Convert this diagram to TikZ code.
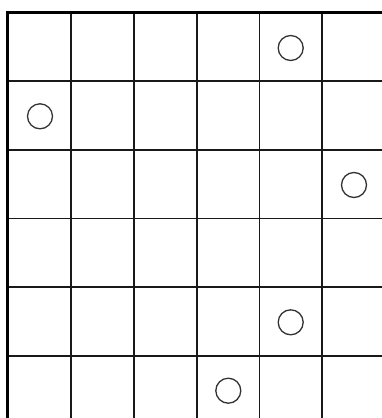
\documentclass[tikz,border=0pt]{standalone}
\begin{document}
\begin{tikzpicture}[x=1pt,y=-1pt,
  gridline/.style={line width=1.6pt, draw=black!90},
  leftborder/.style={line width=3.2pt, draw=black},
  topborder/.style={line width=2.8pt, draw=black},
  stone/.style={circle, draw=black!80, line width=1.3pt, minimum size=25pt, inner sep=0pt}]
\useasboundingbox (0,0) rectangle (382,418);
\fill[white] (0,0) rectangle (382,418);
\begin{scope}
\clip (0,0) rectangle (382,418);
\foreach \x in {71,134,196.7,259.3,322} \draw[gridline] (\x,12) -- (\x,420);
\foreach \y in {81,149.7,218.3,287,355.7} \draw[gridline] (7,\y) -- (384,\y);
\draw[topborder] (6,12.3) -- (384,12.3);
\draw[leftborder] (7.5,11) -- (7.5,420);
\end{scope}
\node[stone] (c1) at (290.7,48) {};
\node[stone] (c2) at (40,116.3) {};
\node[stone] (c3) at (354,185) {};
\node[stone] (c4) at (290.7,322.3) {};
\node[stone] (c5) at (228.3,390.7) {};
\end{tikzpicture}
\end{document}
